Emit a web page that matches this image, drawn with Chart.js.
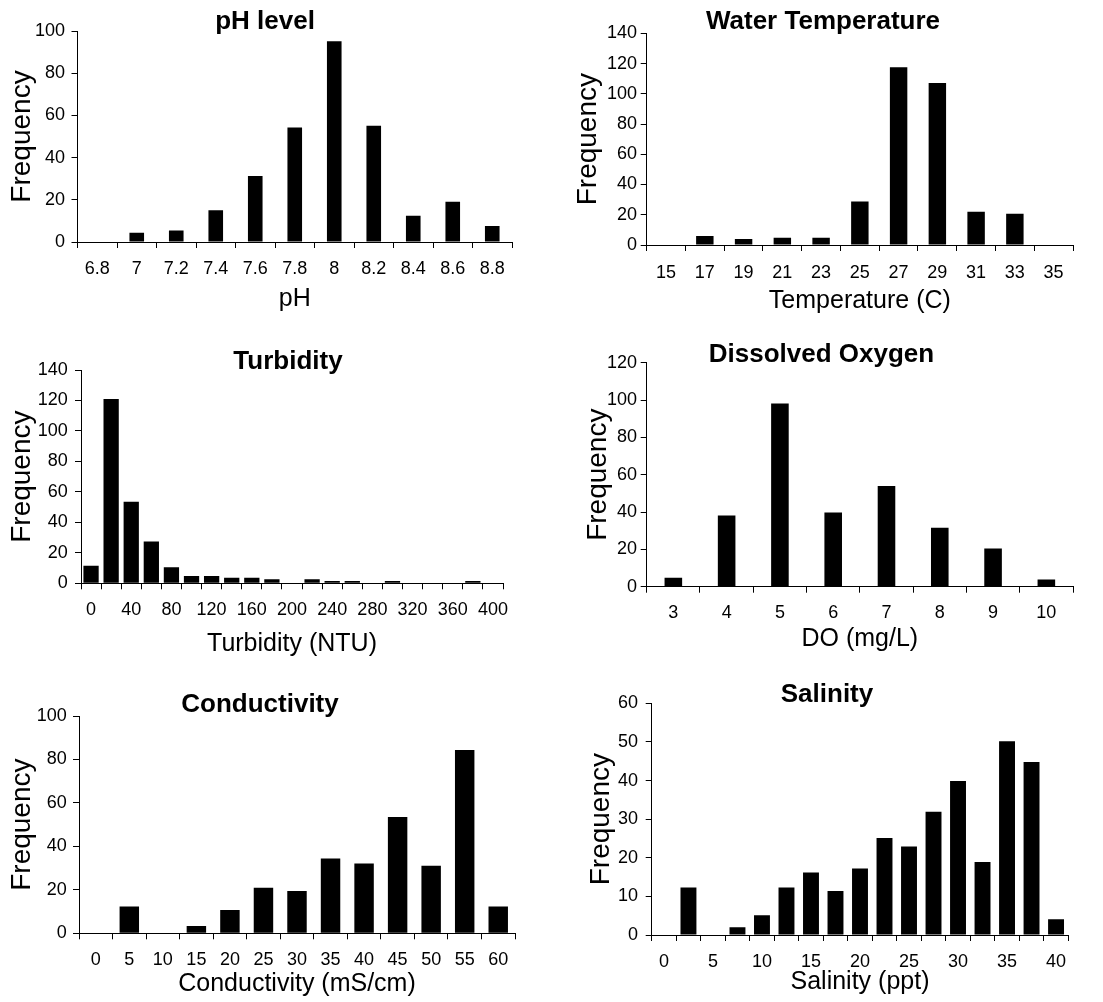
<!DOCTYPE html>
<html>
<head>
<meta charset="utf-8">
<script src="https://cdn.jsdelivr.net/npm/chart.js@4.4.1/dist/chart.umd.min.js"></script>
<style>
  html, body { margin: 0; padding: 0; background: #fff; overflow: hidden; }
  #wrap { position: relative; width: 1103px; height: 1002px; }
  canvas { position: absolute; }
</style>
</head>
<body>
<div id="wrap">
  <canvas id="phChart"></canvas>
  <canvas id="tempChart"></canvas>
  <canvas id="turbChart"></canvas>
  <canvas id="doChart"></canvas>
  <canvas id="condChart"></canvas>
  <canvas id="salChart"></canvas>
</div>
<script>
// pH level
var phBins = ['6.8', '7', '7.2', '7.4', '7.6', '7.8', '8', '8.2', '8.4', '8.6', '8.8'];
var phFreq = [0, 4.4, 5.4, 15, 31.3, 54.3, 95.1, 55.1, 12.5, 19.1, 7.6];

// Water temperature
var tempBins = ['15', '17', '19', '21', '23', '25', '27', '29', '31', '33', '35'];
var tempFreq = [0, 5.9, 4, 4.8, 4.8, 28.8, 117.5, 107.2, 22, 20.7, 0];

// Turbidity (every other bin gets a label)
var turbBins = ['0', '20', '40', '60', '80', '100', '120', '140', '160', '180', '200',
                '220', '240', '260', '280', '300', '320', '340', '360', '380', '400'];
var turbTicks = ['0', '', '40', '', '80', '', '120', '', '160', '', '200',
                 '', '240', '', '280', '', '320', '', '360', '', '400'];
var turbFreq = [11.5, 121, 53.5, 27.5, 10.5, 4.8, 4.8, 3.7, 3.7, 2.6, 0,
                2.6, 1.5, 1.5, 0, 1.5, 0, 0, 0, 1.5, 0];

// Dissolved oxygen
var doBins = ['3', '4', '5', '6', '7', '8', '9', '10'];
var doFreq = [4.8, 38.2, 98.2, 39.8, 53.9, 31.6, 20.5, 3.9];

// Conductivity
var condBins = ['0', '5', '10', '15', '20', '25', '30', '35', '40', '45', '50', '55', '60'];
var condFreq = [0, 12.3, 0, 3.4, 10.7, 21, 19.5, 34.4, 32.1, 53.5, 31.1, 84.4, 12.3];

// Salinity (every other bin gets a label)
var salBins = ['0', '2.5', '5', '7.5', '10', '12.5', '15', '17.5', '20', '22.5', '25',
               '27.5', '30', '32.5', '35', '37.5', '40'];
var salTicks = ['0', '', '5', '', '10', '', '15', '', '20', '', '25',
                '', '30', '', '35', '', '40'];
var salFreq = [0, 12.3, 0, 2, 5.1, 12.3, 16.2, 11.4, 17.2, 25.1, 22.9,
               31.9, 39.9, 18.9, 50.2, 44.8, 4.1];

Chart.defaults.font.family = "'Liberation Sans', Arial, sans-serif";
Chart.defaults.color = '#000';

function histogram(id, p, title, xTitle, labels, ticks, values) {
  var el = document.getElementById(id);
  el.width = p.w; el.height = p.h;
  el.style.left = p.x + 'px'; el.style.top = p.y + 'px';
  el.style.width = p.w + 'px'; el.style.height = p.h + 'px';

  return new Chart(el.getContext('2d'), {
    type: 'bar',
    data: {
      labels: labels,
      datasets: [{
        data: values,
        xAxisID: 'x',
        yAxisID: 'y',
        backgroundColor: '#000',
        borderWidth: 0,
        barPercentage: p.bar,
        categoryPercentage: 1
      }]
    },
    options: {
      responsive: false,
      animation: false,
      layout: { padding: 0 },
      plugins: {
        legend: { display: false },
        tooltip: { enabled: false },
        title: {
          display: true,
          text: title,
          font: { size: 26, weight: 'bold', lineHeight: 1.2 },
          padding: { top: p.titleTop, bottom: p.titleBottom }
        }
      },
      scales: {
        x: {
          offset: true,
          grid: { offset: true, drawOnChartArea: false, drawTicks: true, tickLength: 6, color: '#000' },
          border: { display: true, color: '#000', width: 1 },
          ticks: {
            autoSkip: false, maxRotation: 0, padding: p.xTickPad,
            font: { size: 18, lineHeight: 1.2 },
            callback: function (v, i) { return ticks ? ticks[i] : labels[i]; }
          },
          title: { display: true, text: xTitle, font: { size: 25, lineHeight: 1.2 }, padding: 0 },
          afterFit: function (s) { s.height = p.xAxisH; }
        },
        y: {
          min: 0, max: p.max,
          grid: { drawOnChartArea: false, drawTicks: true, tickLength: 6, color: '#000' },
          border: { display: true, color: '#000', width: 1 },
          ticks: { stepSize: p.step, padding: p.yTickPad, font: { size: 18, lineHeight: 1.2 } },
          title: { display: true, text: 'Frequency', font: { size: 28, lineHeight: 1.2 },
                   padding: { top: p.yTitlePad, bottom: 0 } },
          afterFit: function (s) { s.width = p.yAxisW; }
        },
        // empty strip on the right so the title stays centred on the whole panel
        gap: {
          type: 'linear', position: 'right', display: true,
          grid: { display: false, drawTicks: false },
          border: { display: false },
          ticks: { display: false },
          afterFit: function (s) { s.width = p.padRight; }
        }
      }
    }
  });
}

histogram('phChart',
  { x: 0, y: 0, w: 530, h: 314, yAxisW: 77.5, xAxisH: 72, padRight: 18,
    titleTop: 6.4, titleBottom: -6.6, xTickPad: 10.2, yTickPad: 6.5, yTitlePad: 5.2,
    bar: 0.37, max: 100, step: 20 },
  'pH level', 'pH', phBins, null, phFreq);

histogram('tempChart',
  { x: 550, y: 0, w: 546, h: 316, yAxisW: 96.7, xAxisH: 71, padRight: 23,
    titleTop: 6.4, titleBottom: -4.3, xTickPad: 10.9, yTickPad: 3.7, yTitlePad: 21.2,
    bar: 0.45, max: 140, step: 20 },
  'Water Temperature', 'Temperature (C)', tempBins, null, tempFreq);

histogram('turbChart',
  { x: 0, y: 320, w: 576, h: 339, yAxisW: 81, xAxisH: 75.7, padRight: 73,
    titleTop: 26.1, titleBottom: -7.3, xTickPad: 9.9, yTickPad: 7.3, yTitlePad: 5.2,
    bar: 0.76, max: 140, step: 20 },
  'Turbidity', 'Turbidity (NTU)', turbBins, turbTicks, turbFreq);

histogram('doChart',
  { x: 550, y: 320, w: 543, h: 334, yAxisW: 96.7, xAxisH: 67.3, padRight: 20,
    titleTop: 19.4, titleBottom: -7.9, xTickPad: 9.2, yTickPad: 3.7, yTitlePad: 31.2,
    bar: 0.33, max: 120, step: 20 },
  'Dissolved Oxygen', 'DO (mg/L)', doBins, null, doFreq);

histogram('condChart',
  { x: 0, y: 650, w: 520, h: 349, yAxisW: 79, xAxisH: 65.7, padRight: 5,
    titleTop: 39.4, titleBottom: -4.6, xTickPad: 9.9, yTickPad: 6.3, yTitlePad: 5.2,
    bar: 0.58, max: 100, step: 20 },
  'Conductivity', 'Conductivity (mS/cm)', condBins, null, condFreq);

histogram('salChart',
  { x: 552, y: 650, w: 550, h: 347, yAxisW: 99.7, xAxisH: 62, padRight: 33.7,
    titleTop: 29.4, titleBottom: -7.3, xTickPad: 9.9, yTickPad: 7.7, yTitlePad: 32.9,
    bar: 0.65, max: 60, step: 10 },
  'Salinity', 'Salinity (ppt)', salBins, salTicks, salFreq);
</script>
</body>
</html>
